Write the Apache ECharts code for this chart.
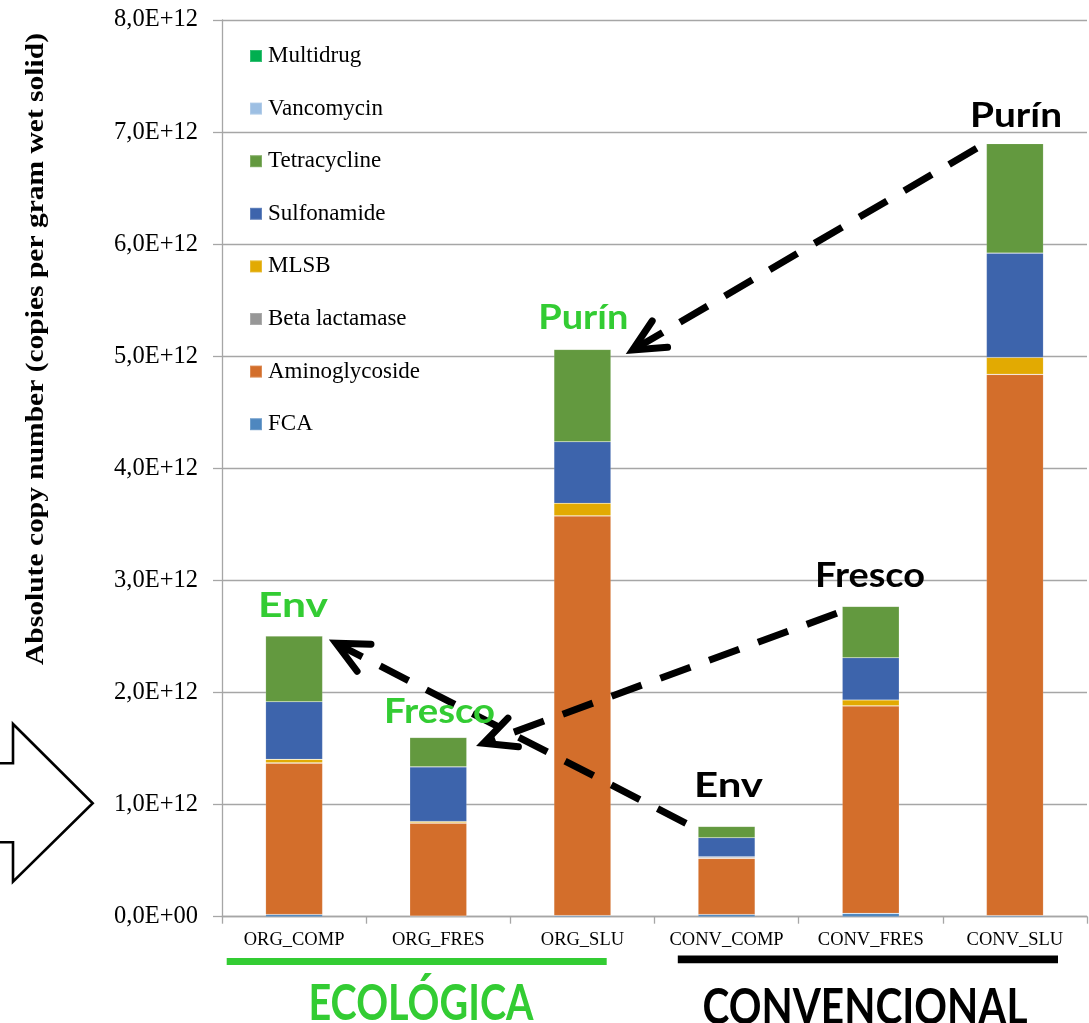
<!DOCTYPE html>
<html>
<head>
<meta charset="utf-8">
<script src="https://cdn.jsdelivr.net/npm/echarts@6/dist/echarts.min.js"></script>
<style>html,body{margin:0;padding:0;background:#fff;}#chart{width:1089px;height:1023px;}</style>
</head>
<body>
<div id="chart"></div>
<script>
const categories = ['ORG_COMP', 'ORG_FRES', 'ORG_SLU', 'CONV_COMP', 'CONV_FRES', 'CONV_SLU'];
const yTickLabels = ['0,0E+00', '1,0E+12', '2,0E+12', '3,0E+12', '4,0E+12', '5,0E+12', '6,0E+12', '7,0E+12', '8,0E+12'];
const legendOrder = ['Multidrug', 'Vancomycin', 'Tetracycline', 'Sulfonamide', 'MLSB', 'Beta lactamase', 'Aminoglycoside', 'FCA'];

const fca            = [0.02e12, 0.005e12, 0.01e12, 0.02e12, 0.03e12, 0.01e12];
const aminoglycoside = [1.35e12, 0.83e12, 3.565e12, 0.50e12, 1.85e12, 4.828e12];
const betaLactamase  = [0.004e12, 0.003e12, 0.002e12, 0.01e12, 0.002e12, 0.002e12];
const mlsb           = [0.03e12, 0.012e12, 0.111e12, 0.005e12, 0.051e12, 0.149e12];
const sulfonamide    = [0.514e12, 0.487e12, 0.549e12, 0.17e12, 0.377e12, 0.931e12];
const tetracycline   = [0.586e12, 0.262e12, 0.824e12, 0.101e12, 0.459e12, 0.977e12];
const vancomycin     = [0.002e12, 0.001e12, 0.002e12, 0.002e12, 0.002e12, 0.002e12];
const multidrug      = [0.003e12, 0.002e12, 0.002e12, 0.004e12, 0.003e12, 0.002e12];

const seriesDefs = [
  ['FCA', fca, '#4E87BF'],
  ['Aminoglycoside', aminoglycoside, '#D36E2B'],
  ['Beta lactamase', betaLactamase, '#979797'],
  ['MLSB', mlsb, '#E2AA02'],
  ['Sulfonamide', sulfonamide, '#3D64AC'],
  ['Tetracycline', tetracycline, '#63993F'],
  ['Vancomycin', vancomycin, '#9DBFE3'],
  ['Multidrug', multidrug, '#00AF50']
];

const GREEN = '#33CC33';
const SANS = 'Lato';
const SERIF = '"Liberation Serif", "Times New Roman", serif';

const mctx = document.createElement('canvas').getContext('2d');
function fit(str, font, w) { mctx.font = font; return w / mctx.measureText(str).width; }

function label(str, cx, cy, w, size, color) {
  const font = 'bold ' + size + 'px ' + SANS;
  return {
    type: 'text', x: cx, y: cy, scaleX: fit(str, font, w), scaleY: 1, z: 100,
    style: { text: str, font: font, fill: color, textAlign: 'center', textVerticalAlign: 'middle', align: 'center', verticalAlign: 'middle' }
  };
}

function arrow(x1, y1, x2, y2) {
  const ang = Math.atan2(y1 - y2, x1 - x2);
  const L = 35, a = 0.45;
  const p1 = [x2 + L * Math.cos(ang + a), y2 + L * Math.sin(ang + a)];
  const p2 = [x2 + L * Math.cos(ang - a), y2 + L * Math.sin(ang - a)];
  const sx = x2 + 6 * Math.cos(ang), sy = y2 + 6 * Math.sin(ang);
  return [
    { type: 'line', z: 90, shape: { x1: x1, y1: y1, x2: sx, y2: sy },
      style: { stroke: '#000', lineWidth: 7, lineDash: [32, 20], lineCap: 'butt' } },
    { type: 'polyline', z: 90, shape: { points: [p1, [x2, y2], p2] },
      style: { stroke: '#000', fill: null, lineWidth: 7, lineJoin: 'miter', lineCap: 'round' } }
  ];
}

const titleStr = 'Absolute copy number (copies per gram wet solid)';
const titleFont = 'bold 25px ' + SERIF;

const graphics = [
  { type: 'text', x: 37, y: 349, rotation: Math.PI / 2, scaleX: fit(titleStr, titleFont, 632), z: 100,
    style: { text: titleStr, font: titleFont, fill: '#000', textAlign: 'center', textVerticalAlign: 'middle', align: 'center', verticalAlign: 'middle' } },
  { type: 'polyline', z: 80, shape: { points: [[-2, 763.3], [13, 763.3], [13, 724], [92.7, 803.3], [13, 881.7], [13, 842.3], [-2, 842.3]] },
    style: { stroke: '#000', fill: '#fff', lineWidth: 2.6, lineJoin: 'miter' } },
  { type: 'rect', z: 80, shape: { x: 226.7, y: 958, width: 380, height: 7 }, style: { fill: GREEN } },
  { type: 'rect', z: 80, shape: { x: 677.8, y: 955.5, width: 380.2, height: 7.7 }, style: { fill: '#000' } },
  label('ECOLÓGICA', 421, 1004, 225, 50, GREEN),
  label('CONVENCIONAL', 865, 1008, 325, 50, '#000'),
  label('Purín', 1016, 116, 92, 35, '#000'),
  label('Purín', 583.3, 318, 90, 35, GREEN),
  label('Fresco', 870, 576, 110, 35, '#000'),
  label('Fresco', 439.5, 712, 111, 35, GREEN),
  label('Env', 293, 606, 70, 35, GREEN),
  label('Env', 728.5, 786, 69, 35, '#000')
].concat(
  arrow(976.7, 148.3, 632.7, 350),
  arrow(836.8, 613.3, 483.6, 743.3),
  arrow(686, 823.3, 336, 643.3)
);

const chart = echarts.init(document.getElementById('chart'), null, { renderer: 'canvas' });
chart.setOption({
  animation: false,
  backgroundColor: '#fff',
  grid: { left: 222, right: 2, top: 20, bottom: 106.3, containLabel: false },
  legend: {
    orient: 'vertical', left: 249, top: 44, padding: 0,
    itemWidth: 12, itemHeight: 12, itemGap: 28.6,
    icon: 'rect',
    data: legendOrder,
    textStyle: { fontFamily: SERIF, fontSize: 23, color: '#000', lineHeight: 24, padding: [0, 0, 0, 1] }
  },
  xAxis: {
    type: 'category', data: categories, boundaryGap: true,
    axisLine: { lineStyle: { color: '#A6A6A6', width: 1.3 } },
    axisTick: { show: true, interval: 0, length: 7, lineStyle: { color: '#A6A6A6', width: 1.3 } },
    axisLabel: { interval: 0, fontFamily: SERIF, fontSize: 18.5, color: '#000', margin: 14 }
  },
  yAxis: {
    type: 'value', min: 0, max: 8e12, interval: 1e12,
    axisLine: { show: true, lineStyle: { color: '#A6A6A6', width: 1.3 } },
    axisTick: { show: true, length: 9, lineStyle: { color: '#A6A6A6', width: 1.3 } },
    splitLine: { show: true, lineStyle: { color: '#A6A6A6', width: 1.3 } },
    axisLabel: {
      fontFamily: SERIF, fontSize: 24.5, color: '#000', margin: 24,
      formatter: function (v) { return yTickLabels[Math.round(v / 1e12)]; }
    }
  },
  series: seriesDefs.map(function (d) {
    return {
      name: d[0], type: 'bar', stack: 'total', data: d[1], barWidth: 57,
      itemStyle: { color: d[2], borderColor: 'rgba(255,255,255,0.2)', borderWidth: 0.6 },
      emphasis: { disabled: true }
    };
  }),
  graphic: graphics
});
</script>
</body>
</html>
